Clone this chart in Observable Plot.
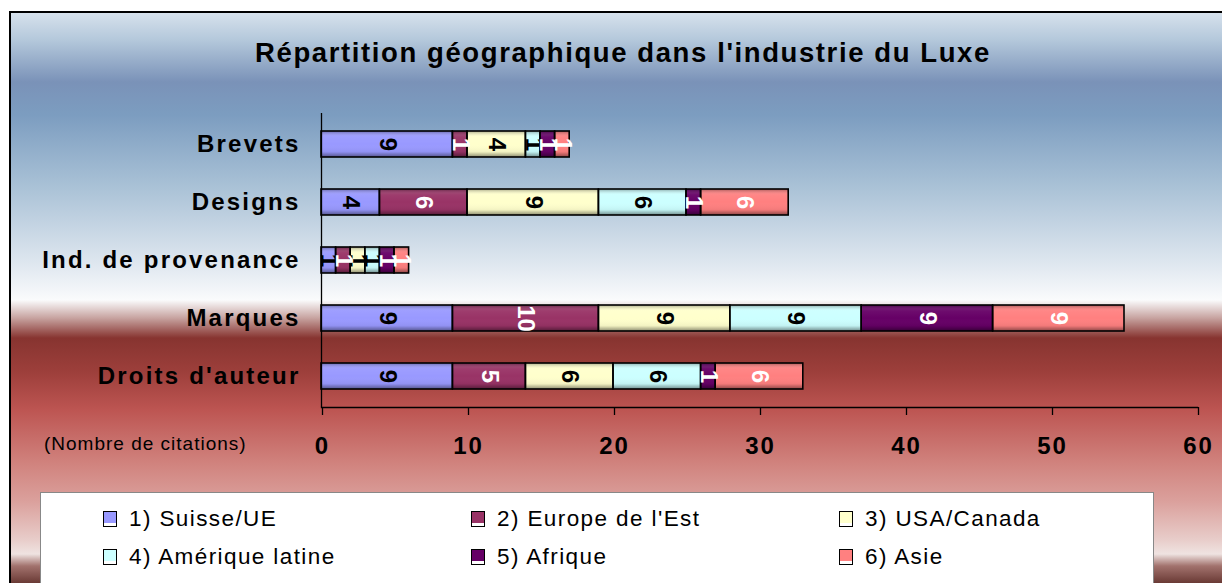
<!DOCTYPE html>
<html>
<head>
<meta charset="utf-8">
<script src="https://cdn.jsdelivr.net/npm/d3@7"></script>
<script src="https://cdn.jsdelivr.net/npm/@observablehq/plot@0.6"></script>
<style>
  html, body { margin: 0; padding: 0; width: 1222px; height: 583px; overflow: hidden; background: #fff; font-family: "Liberation Sans", Arial, sans-serif; }
  #frame {
    position: absolute; left: 9px; top: 11px; width: 1300px; height: 700px;
    border: 2px solid #000; box-sizing: border-box;
    background: linear-gradient(to bottom,
      #d6e1ec 0px, #b4c8db 27px, #7a92b8 69px, #7c9dc0 102px, #a9c1d6 173px,
      #dce5ee 247px, #fafbfc 287px, #c7a3a0 305px, #873430 325px, #9d3f3b 359px,
      #bd5552 397px, #d1847f 452px, #dba19d 489px, #e8cdca 527px, #efe3e1 541px,
      #a2726d 553px, #6a3a35 570px, #6a3a35 700px);
  }
  #title { position: absolute; left: 0; width: 1246px; top: 37px; text-align: center; font-weight: bold; font-size: 27.5px; letter-spacing: 1.6px; color: #000; }
  #chart { position: absolute; left: 0; top: 0; }
  #unit { position: absolute; left: 44px; top: 433px; font-size: 19px; letter-spacing: 1px; color: #000; }
  #legend { position: absolute; left: 40px; top: 492px; width: 1114px; height: 100px; background: #fff; border: 1px solid #888; box-sizing: border-box; }
  .item { position: absolute; font-size: 22.5px; letter-spacing: 1.4px; color: #000; display: flex; align-items: center; white-space: nowrap; }
  .sw { width: 14px; height: 16px; border: 1.5px solid #000; margin-right: 12px; box-sizing: border-box; box-shadow: inset 0 -3px 0 #fff; }
</style>
</head>
<body>
<div id="frame"></div>
<div id="title">Répartition géographique dans l'industrie du Luxe</div>
<div id="chart"></div>
<div id="unit">(Nombre de citations)</div>
<div id="legend"></div>
<script>
const categories = ["Brevets", "Designs", "Ind. de provenance", "Marques", "Droits d'auteur"];
const regions = ["1) Suisse/UE", "2) Europe de l'Est", "3) USA/Canada", "4) Amérique latine", "5) Afrique", "6) Asie"];
const colors = ["#9999FF", "#993366", "#FFFFCC", "#CCFFFF", "#660066", "#FF8080"];
const labelColors = ["black", "white", "black", "black", "white", "white"];
const suisseUE      = [9, 4, 1, 9, 9];
const europeEst     = [1, 6, 1, 10, 5];
const usaCanada     = [4, 9, 1, 9, 6];
const ameriqueLat   = [1, 6, 1, 9, 6];
const afrique       = [1, 1, 1, 9, 1];
const asie          = [1, 6, 1, 9, 6];
const xTicks = [0, 10, 20, 30, 40, 50, 60];

const series = [suisseUE, europeEst, usaCanada, ameriqueLat, afrique, asie];
const data = [];
regions.forEach((r, i) => categories.forEach((c, j) => data.push({cat: c, region: r, value: series[i][j], lc: labelColors[i]})));

const stackOpts = {x: "value", y: "cat", z: "region", order: regions};
const labelOpts = {...stackOpts, text: d => String(d.value), rotate: 90, fontSize: 24, fontWeight: "bold"};

const plot = Plot.plot({
  width: 1222, height: 470,
  marginLeft: 321, marginRight: 25, marginTop: 113, marginBottom: 63,
  style: {background: "transparent", fontFamily: "'Liberation Sans', Arial, sans-serif", color: "#000", overflow: "visible"},
  x: {domain: [0, 60], ticks: xTicks},
  y: {domain: categories, paddingInner: 0.56, paddingOuter: 0.28, align: 0.5},
  color: {domain: regions, range: colors},
  marks: [
    Plot.barX(data, Plot.stackX({...stackOpts, fill: "region", inset: 0})),
    Plot.barX(data, Plot.stackX({...stackOpts, fill: "url(#shade)", stroke: "#000", strokeWidth: 1.6, inset: 0})),
    Plot.text(data, Plot.filter(d => d.lc === "black", Plot.stackX({...labelOpts, fill: "black"}))),
    Plot.text(data, Plot.filter(d => d.lc === "white", Plot.stackX({...labelOpts, fill: "white"}))),
    Plot.ruleX([0], {stroke: "#000", strokeWidth: 1.3}),
    Plot.frame({anchor: "bottom", stroke: "#000", strokeWidth: 1.3}),
    Plot.axisX({ticks: xTicks, tickSize: 8, tickPadding: 21, fontSize: 24, fontWeight: "bold", label: null, stroke: "#000", strokeWidth: 1.3, dx: 1}),
    Plot.axisY({tickSize: 0, tickPadding: 21, fontSize: 24, fontWeight: "bold", label: null})
  ]
});

// shading gradient for bars
const svg = d3.select(plot);
const defs = svg.insert("defs", ":first-child");
const g = defs.append("linearGradient").attr("id", "shade").attr("x1", 0).attr("y1", 0).attr("x2", 0).attr("y2", 1);
g.append("stop").attr("offset", "0%").attr("stop-color", "#000").attr("stop-opacity", 0.35);
g.append("stop").attr("offset", "22%").attr("stop-color", "#fff").attr("stop-opacity", 0.05);
g.append("stop").attr("offset", "50%").attr("stop-color", "#fff").attr("stop-opacity", 0.0);
g.append("stop").attr("offset", "80%").attr("stop-color", "#000").attr("stop-opacity", 0.05);
g.append("stop").attr("offset", "100%").attr("stop-color", "#000").attr("stop-opacity", 0.45);
svg.selectAll("g[aria-label='y-axis tick label']").attr("letter-spacing", "2.2px");
svg.selectAll("g[aria-label='x-axis tick label']").attr("letter-spacing", "2px");
document.getElementById("chart").appendChild(plot);

// legend
const legend = document.getElementById("legend");
const colX = [62, 430, 798];
const rowY = [26, 64];
regions.forEach((r, i) => {
  const it = document.createElement("div");
  it.className = "item";
  it.style.left = colX[i % 3] + "px";
  it.style.top = (rowY[Math.floor(i / 3)] - 13) + "px";
  const sw = document.createElement("span");
  sw.className = "sw";
  sw.style.backgroundColor = colors[i];
  it.appendChild(sw);
  it.appendChild(document.createTextNode(r));
  legend.appendChild(it);
});
</script>
</body>
</html>
